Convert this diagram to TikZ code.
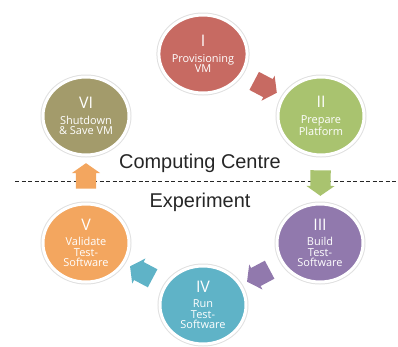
\documentclass[tikz,border=0pt]{standalone}
\usepackage{fontspec}
\setmainfont{Liberation Sans}
\newfontfamily\etiq{Open Sans}
\usetikzlibrary{shapes.geometric,shapes.arrows}

\definecolor{rouge}{HTML}{C76A62}
\definecolor{vert}{HTML}{A9C36F}
\definecolor{violet}{HTML}{9179AD}
\definecolor{bleu}{HTML}{5FB3C7}
\definecolor{orange}{HTML}{F3A65F}
\definecolor{olive}{HTML}{A39B6B}
\definecolor{encre}{HTML}{262626}

\newcommand\chiffre[1]{{\fontsize{16}{16}\selectfont #1}\\[5bp]}

\tikzset{
  etape/.style={ellipse,fill=#1,draw=white,line width=3bp,
    minimum width=86bp,minimum height=78bp,inner sep=0pt,align=center,
    text=white,font=\etiq\fontsize{11}{10.5}\selectfont,
    preaction={draw=black!12,line width=5bp}},
  fleche/.style={single arrow,fill=#1,draw=none,minimum size=0pt,
    inner xsep=9bp,inner ysep=10bp,single arrow head extend=4bp,
    single arrow tip angle=110},
  titre/.style={font=\fontsize{20}{24}\selectfont,text=encre,inner sep=0pt}
}

\begin{document}
\begin{tikzpicture}[x=1bp,y=-1bp]
  \useasboundingbox (0,0) rectangle (398,347);
  \draw [dashed,dash pattern=on 4bp off 2.5bp,line width=0.8bp,encre] (15,181) -- (398,181);
  \node [titre] (cc) at (200,163) {Computing Centre};
  \node [titre] (exp) at (200,202) {Experiment};

  \node [etape=rouge] (I) at (203,54) {\chiffre{I}Provisioning\\VM};
  \node [etape=vert] (II) at (321,116) {\chiffre{II}Prepare\\Platform};
  \node [etape=violet] (III) at (320,243) {\chiffre{III}Build\\Test-\\Software};
  \node [etape=bleu] (IV) at (203,305) {\chiffre{IV}Run\\Test-\\Software};
  \node [etape=orange] (V) at (86,243) {\chiffre{V}Validate\\Test-\\Software};
  \node [etape=olive] (VI) at (86,116) {\chiffre{VI}Shutdown\\\& Save VM};

  % fleches entre les etapes
  \path [allow upside down] (I) -- (II) node [midway,sloped,fleche=rouge] {};
  \path [allow upside down] (II) -- (III) node [midway,sloped,fleche=vert] {};
  \path [allow upside down] (III) -- (IV) node [midway,sloped,fleche=violet] {};
  \path [allow upside down] (IV) -- (V) node [midway,sloped,fleche=bleu] {};
  \path [allow upside down] (V) -- (VI) node [midway,sloped,fleche=orange] {};
\end{tikzpicture}
\end{document}
